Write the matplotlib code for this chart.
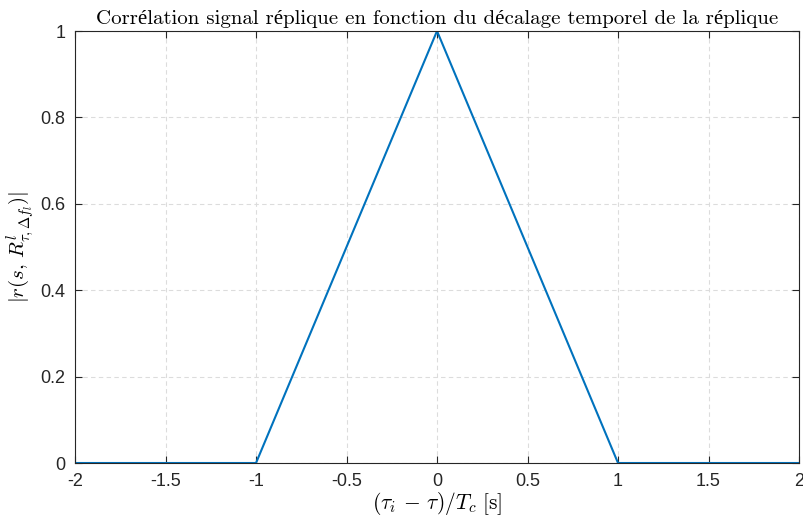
import numpy as np
import matplotlib.pyplot as plt

plt.rcParams['mathtext.fontset'] = 'cm'

# data
x_vals = [-2, -1, 0, 1, 2]
corr = [0, 0, 1, 0, 0]
xticks = [-2, -1.5, -1, -0.5, 0, 0.5, 1, 1.5, 2]
xticklabels = ['-2', '-1.5', '-1', '-0.5', '0', '0.5', '1', '1.5', '2']
yticks = [0, 0.2, 0.4, 0.6, 0.8, 1]
yticklabels = ['0', '0.2', '0.4', '0.6', '0.8', '1']

fig = plt.figure(figsize=(8.04, 5.24), dpi=100)
ax = fig.add_axes([0.0933, 0.1164, 0.9005, 0.8244])

ax.plot(x_vals, corr, color='#0072BD', linewidth=1.5)
ax.set_xlim(-2, 2)
ax.set_ylim(0, 1)
ax.set_xticks(xticks)
ax.set_xticklabels(xticklabels)
ax.set_yticks(yticks)
ax.set_yticklabels(yticklabels)

ax.grid(True, linestyle=(0, (4, 3)), color='#dcdcdc', linewidth=0.8)
ax.set_axisbelow(True)
ax.tick_params(direction='in', top=True, right=True, length=5, width=0.8,
               colors='#262626', labelsize=13, pad=7)
for lbl in ax.get_xticklabels() + ax.get_yticklabels():
    lbl.set_family('Liberation Sans')
for s in ax.spines.values():
    s.set_color('#262626')
    s.set_linewidth(0.8)

ax.set_xlabel(r'$(\tau_i\,-\,\tau)/T_c\ [\mathrm{s}]$', fontsize=15.5, labelpad=0)
ax.set_ylabel(r'$|r(s,\, R^l_{\tau,\Delta f_l})|$', fontsize=15, labelpad=2)
ax.set_title('Corrélation signal réplique en fonction du décalage temporel de la réplique',
             fontsize=15, family=['cmr10', 'Liberation Serif'], pad=5)

plt.savefig('out.png', dpi=100)
